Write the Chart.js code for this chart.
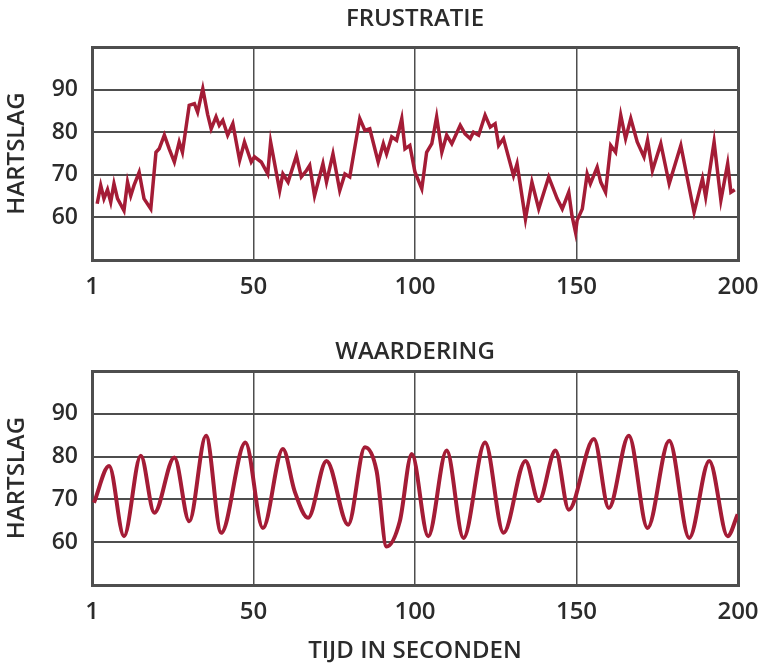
<!DOCTYPE html>
<html>
<head>
<meta charset="utf-8">
<script src="https://cdn.jsdelivr.net/npm/chart.js@4.4.1/dist/chart.umd.min.js"></script>
<style>
  html, body { margin: 0; padding: 0; background: #fff; }
  body { width: 760px; height: 663px; position: relative; overflow: hidden; }
  canvas { position: absolute; left: 0; }
  #frustratie { top: 0; }
  #waardering { top: 320px; }
</style>
</head>
<body>
<canvas id="frustratie" width="760" height="320"></canvas>
<canvas id="waardering" width="760" height="343"></canvas>
<script>
const frustratieSec = [
  1.6, 2.7, 3.7, 4.8, 5.8, 6.8, 7.9, 9.9, 11, 12, 13, 14.6, 16.1, 18.2, 19.8, 20.8, 22.4, 23.9, 25.5, 27,
  28, 30.1, 31.7, 32.7, 34.3, 35.8, 36.9, 38.4, 39.4, 40.5, 42, 43.6, 45.7, 47.2, 49.3,
  50.3, 52.4, 54.4, 55.3, 58.1, 59.1, 60.7, 63.3, 64.8, 66.4, 67.4, 68.9, 71.5, 72.6, 74.6, 76.7, 78.3,
  79.8, 82.9, 84.5, 86, 88.6, 90.2, 91.2, 92.8, 94.3, 95.9, 96.9, 98.4, 100,
  102.1, 103.6, 105.2, 106.7, 108.3, 109.8, 111.4, 114, 115.5, 117.1, 118.1, 119.7, 121.7, 123.3, 124.8,
  125.9, 127.4, 130.5, 131.6, 134.2, 136.2, 138.3, 141.4, 144, 145.6, 147.6, 148.6, 149.7,
  150.2, 151.8, 153.3, 154.3, 156.4, 157.5, 159, 160.6, 162.1, 163.7, 165.2, 166.8, 168.8, 170.9, 172,
  173.5, 176.1, 178.7, 182.3, 186.4, 189, 190, 192.6, 194.7, 196.8, 197.8, 199
]
const frustratieHR = [
  63.2, 67.5, 64.4, 66.5, 63.6, 67.9, 64.4, 61.6, 68.3, 65.1, 67.5, 70.6, 64.4, 62, 75.3, 76.1, 79.3, 76.1, 73, 77.7,
  75.3, 86.3, 86.7, 84.7, 90.2, 84.2, 80.8, 83.6, 81.6, 82.8, 79.3, 82, 73.4, 77.7, 73,
  74.2, 73, 70.2, 77.7, 66.3, 70.2, 68.3, 74.5, 69.5, 71, 72.2, 65.1, 72.6, 68.3, 74.9, 66.3, 70.2,
  69.5, 83.2, 80.4, 80.8, 73, 77.3, 74.9, 78.9, 78.1, 83.2, 76.1, 76.9, 70.6,
  66.7, 75.3, 77.3, 83.6, 75.3, 79.3, 77.3, 81.6, 79.6, 78.5, 80, 79.3, 84, 81.2, 82,
  76.9, 78.5, 69.8, 72.6, 59.6, 68.3, 62, 69.5, 64.4, 62, 65.9, 60.4, 56.5,
  59.3, 62, 70.2, 67.9, 71.8, 68.3, 65.9, 76.9, 75.3, 84, 78.5, 83.2, 77.7, 74.2, 78.1,
  71, 77.3, 67.9, 76.9, 61.2, 69.1, 64.8, 77.7, 64, 72.6, 65.9, 66.5
]

const waarderingSec = [
  0.6, 5.3, 9.9, 15.1, 19.3, 25.5, 30.1, 35.3, 40, 47.5, 52.9, 59.1, 62.7, 66.9, 72.6, 79.3, 84.5, 88.1,
  91.2, 95.3, 99, 104.1, 109.8, 115, 121.7, 127.4, 134.2, 138.3, 143.5, 147.6, 155.4, 160, 166.2, 172,
  178.7, 184.9, 191.1, 196.8, 199.9
]
const waarderingHR = [
  69.2, 77.8, 61.4, 80.2, 66.9, 79.8, 64.9, 84.9, 62.2, 83.3, 63.3, 81.8, 72, 65.7, 79, 64.1, 82.2, 76.7,
  59, 64.9, 80.6, 61.4, 81.4, 61, 83.3, 62.2, 79, 69.6, 81.4, 67.6, 84.1, 68, 84.9, 63.3,
  83.7, 61, 79, 61.4, 66.5
]

const xTicks = [0, 50, 100, 150, 200]
const xTickLabels = ['1', '50', '100', '150', '200']
const yTickLabels = [60, 70, 80, 90]

const LINE_COLOR = '#a41c36'
const GRID_COLOR = '#4e4e4e'
const TEXT_COLOR = '#2b2b2b'
const FONT = 'Open Sans'

function toPoints(xs, ys) {
  return xs.map((x, i) => ({ x: x, y: ys[i] }))
}

function makeChart(element, title, points, opts) {
  new Chart(element, {
    type: 'line',
    data: {
      datasets: [{
        data: points,
        borderColor: LINE_COLOR,
        borderWidth: opts.lineWidth,
        pointRadius: 0,
        tension: opts.smooth ? 0.4 : 0,
        cubicInterpolationMode: opts.smooth ? 'monotone' : 'default',
        fill: false,
      }],
    },
    options: {
      responsive: false,
      animation: false,
      layout: { padding: { left: 0, right: 22, top: 0, bottom: 0 } },
      plugins: {
        legend: { display: false },
        tooltip: { enabled: false },
        title: {
          display: true,
          fullSize: false,
          text: title,
          color: TEXT_COLOR,
          font: { family: FONT, size: 24, weight: '600', lineHeight: 1 },
          padding: opts.titlePadding,
        },
      },
      scales: {
        x: {
          type: 'linear',
          min: 0,
          max: 200,
          afterBuildTicks: (scale) => { scale.ticks = xTicks.map(v => ({ value: v })) },
          afterFit: (scale) => {
            scale.height = opts.xHeight
            scale.paddingLeft = 0
            scale.paddingRight = 0
          },
          ticks: {
            padding: 13,
            color: TEXT_COLOR,
            font: { family: FONT, size: 24, weight: '600' },
            maxRotation: 0,
            autoSkip: false,
            callback: (v) => xTickLabels[xTicks.indexOf(v)],
          },
          grid: {
            drawTicks: false,
            color: GRID_COLOR,
            lineWidth: (ctx) => (ctx.tick && (ctx.tick.value === 0 || ctx.tick.value === 200)) ? 3 : 1.5,
          },
          border: { display: true, color: GRID_COLOR, width: 3 },
          title: {
            display: opts.xTitle !== '',
            text: opts.xTitle,
            color: TEXT_COLOR,
            font: { family: FONT, size: 24, weight: '600', lineHeight: 1 },
            padding: { top: 0, bottom: 0 },
          },
        },
        y: {
          min: 50,
          max: 100,
          afterFit: (scale) => { scale.width = 92 },
          ticks: {
            stepSize: 10,
            padding: 14,
            color: TEXT_COLOR,
            font: { family: FONT, size: 23, weight: '600' },
            callback: (v) => yTickLabels.includes(v) ? v : '',
          },
          grid: {
            drawTicks: false,
            color: GRID_COLOR,
            lineWidth: (ctx) => (ctx.tick && (ctx.tick.value === 50 || ctx.tick.value === 100)) ? 3 : 2,
          },
          border: { display: true, color: GRID_COLOR, width: 3 },
          title: {
            display: true,
            text: 'HARTSLAG',
            color: TEXT_COLOR,
            font: { family: FONT, size: 24, weight: '600', lineHeight: 1 },
            padding: { top: 5, bottom: 0 },
          },
        },
      },
    },
  })
}

makeChart(document.getElementById('frustratie'), 'FRUSTRATIE',
  toPoints(frustratieSec, frustratieHR),
  { lineWidth: 3.5, smooth: false, xHeight: 60, xTitle: '', titlePadding: { top: 7, bottom: 16 } })

makeChart(document.getElementById('waardering'), 'WAARDERING',
  toPoints(waarderingSec, waarderingHR),
  { lineWidth: 4, smooth: true, xHeight: 78, xTitle: 'TIJD IN SECONDEN', titlePadding: { top: 20, bottom: 7 } })
</script>
</body>
</html>
